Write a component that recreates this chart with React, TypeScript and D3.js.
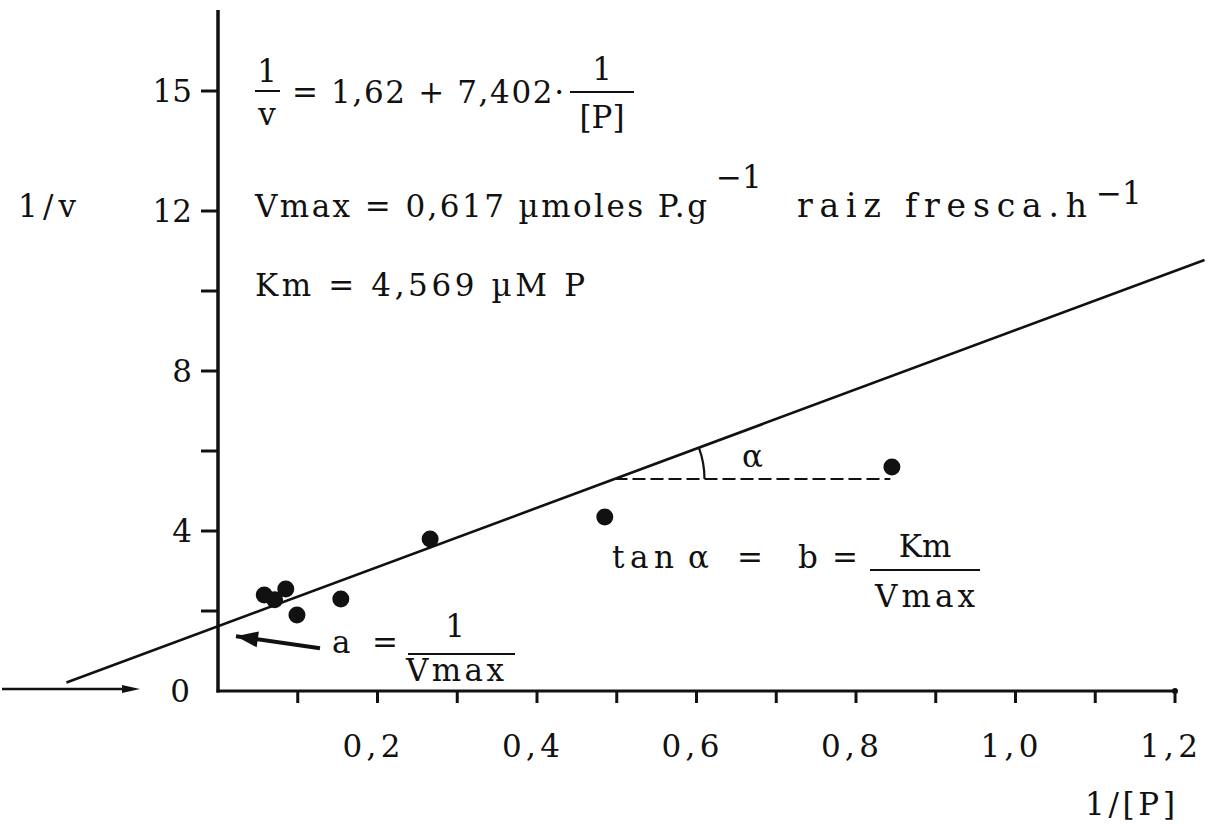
import React from "react";
import * as d3 from "d3";

// Lineweaver–Burk data: 1/[P] versus 1/v
const invP = [0.058, 0.071, 0.085, 0.099, 0.154, 0.266, 0.485, 0.845];
const invV = [2.4, 2.28, 2.55, 1.9, 2.3, 3.8, 4.35, 5.6];

// fitted regression 1/v = a + b·(1/[P])
const intercept = 1.62;
const slope = 7.402;
const lineFrom = -0.19;
const lineTo = 1.237;

const xTickValues = [0.1, 0.2, 0.3, 0.4, 0.5, 0.6, 0.7, 0.8, 0.9, 1.0, 1.1, 1.2];
const xLabelValues = [0.2, 0.4, 0.6, 0.8, 1.0, 1.2];
const xLabelTexts = ["0,2", "0,4", "0,6", "0,8", "1,0", "1,2"];
const yTickValues = [2, 4, 6, 8, 10, 12, 15];
const yLabelValues = [0, 4, 8, 12, 15];
const yLabelTexts = ["0", "4", "8", "12", "15"];

// level of the dashed construction line for the slope angle
const angleLevel = 5.3;
const angleEnd = 0.843;

const W = 1217;
const H = 829;
const FONT = "'DejaVu Serif', 'Liberation Serif', serif";
const FS = 31;

const x = d3.scaleLinear().domain([0, 1.2]).range([218, 1175]);
const y = d3.scaleLinear().domain([0, 15]).range([691, 91]);

type TProps = {
  x: number;
  y: number;
  w?: number;
  anchor?: "start" | "middle" | "end";
  size?: number;
  children: React.ReactNode;
};

function T({ x: tx, y: ty, w, anchor = "start", size = FS, children }: TProps) {
  return (
    <text
      x={tx}
      y={ty}
      textAnchor={anchor}
      fontFamily={FONT}
      fontSize={size}
      fill="#111"
      textLength={w}
      lengthAdjust={w ? "spacing" : undefined}
      style={{ whiteSpace: "pre" }}
    >
      {children}
    </text>
  );
}

export default function App() {
  const fit = d3
    .line<number>()
    .x((d) => x(d))
    .y((d) => y(intercept + slope * d));

  const x0 = (angleLevel - intercept) / slope;
  const cx = x(x0);
  const cy = y(angleLevel);
  const theta = Math.atan2(y(intercept + slope * lineTo) - y(intercept + slope * x0), x(lineTo) - cx);
  const r = 90;
  const arc = `M ${cx + r} ${cy} A ${r} ${r} 0 0 0 ${cx + r * Math.cos(theta)} ${cy + r * Math.sin(theta)}`;

  const yAxisX = x(0);
  const xAxisY = y(0);

  // arrow toward the intercept on the ordinate
  const arrowTip: [number, number] = [yAxisX + 18, y(intercept) + 10];
  const arrowTail: [number, number] = [yAxisX + 102, y(intercept) + 22];
  const ang = Math.atan2(arrowTip[1] - arrowTail[1], arrowTip[0] - arrowTail[0]);
  const head = (tip: [number, number], a: number, len: number, half: number) => {
    const bx = tip[0] - len * Math.cos(a);
    const by = tip[1] - len * Math.sin(a);
    return `M ${tip[0]} ${tip[1]} L ${bx + half * Math.sin(a)} ${by - half * Math.cos(a)} L ${bx - half * Math.sin(a)} ${by + half * Math.cos(a)} Z`;
  };

  return (
    <svg
      width={W}
      height={H}
      viewBox={`0 0 ${W} ${H}`}
      style={{ position: "absolute", left: 0, top: 0, background: "#fff" }}
    >
      <rect width={W} height={H} fill="#fff" />

      {/* axes */}
      <line x1={yAxisX} y1={10} x2={yAxisX} y2={xAxisY + 1.5} stroke="#111" strokeWidth={3.5} />
      <line x1={yAxisX - 1.5} y1={xAxisY} x2={x(1.2)} y2={xAxisY} stroke="#111" strokeWidth={3} />
      <circle cx={x(1.2)} cy={xAxisY} r={3} fill="#111" />

      {/* abscissa extension to the left with arrow */}
      <line x1={2} y1={xAxisY - 2} x2={128} y2={xAxisY - 2} stroke="#111" strokeWidth={2.5} />
      <path d={head([140, xAxisY - 2], 0, 18, 4)} fill="#111" />

      {xTickValues.map((v) => (
        <line key={v} x1={x(v)} y1={xAxisY} x2={x(v)} y2={xAxisY + 12} stroke="#111" strokeWidth={3} />
      ))}
      {xLabelValues.map((v, i) => (
        <T key={v} x={x(v) - 6} y={757} anchor="middle" w={58}>
          {xLabelTexts[i]}
        </T>
      ))}

      {yTickValues.map((v) => (
        <line key={v} x1={yAxisX - 17} y1={y(v)} x2={yAxisX} y2={y(v)} stroke="#111" strokeWidth={3} />
      ))}
      {yLabelValues.map((v, i) => (
        <T key={v} x={v === 0 ? 190 : 192} y={y(v) + 11} anchor="end">
          {yLabelTexts[i]}
        </T>
      ))}

      <T x={18} y={217} w={58}>1/v</T>
      <T x={1085} y={815} w={90}>1/[P]</T>

      {/* regression line */}
      <path d={fit([lineFrom, lineTo]) ?? ""} fill="none" stroke="#111" strokeWidth={2.6} />

      {/* data */}
      {invP.map((p, i) => (
        <circle key={i} cx={x(p)} cy={y(invV[i])} r={8.5} fill="#111" />
      ))}

      {/* slope construction */}
      <line
        x1={cx}
        y1={cy}
        x2={x(angleEnd)}
        y2={cy}
        stroke="#111"
        strokeWidth={2.2}
        strokeDasharray="13 5"
      />
      <path d={arc} fill="none" stroke="#111" strokeWidth={2.2} />
      <T x={cx + r + 48} y={cy - 12} anchor="middle">α</T>

      {/* equation block */}
      <T x={267} y={82} anchor="middle">1</T>
      <line x1={255} y1={91} x2={280} y2={91} stroke="#111" strokeWidth={2} />
      <T x={267} y={125} anchor="middle">v</T>
      <T x={292} y={103} w={272}>= 1,62 + 7,402·</T>
      <T x={602} y={80} anchor="middle">1</T>
      <line x1={570} y1={92} x2={634} y2={92} stroke="#111" strokeWidth={2} />
      <T x={602} y={128} anchor="middle">[P]</T>

      <T x={255} y={217} w={452}>Vmax = 0,617 µmoles P.g</T>
      <T x={716} y={188}>−1</T>
      <T x={797} y={217} w={290} size={33}>raiz fresca.h</T>
      <T x={1096} y={204}>−1</T>

      <T x={255} y={296} w={330}>Km = 4,569 µM P</T>

      {/* slope annotation */}
      <T x={612} y={568} w={62}>tan</T>
      <T x={688} y={568}>α</T>
      <T x={750} y={568} anchor="middle">=</T>
      <T x={798} y={568}>b</T>
      <T x={845} y={568} anchor="middle">=</T>
      <T x={925} y={557} anchor="middle">Km</T>
      <line x1={870} y1={570} x2={980} y2={570} stroke="#111" strokeWidth={2} />
      <T x={925} y={607} anchor="middle" w={100}>Vmax</T>

      {/* intercept annotation */}
      <path d={`M ${arrowTail[0]} ${arrowTail[1]} L ${arrowTip[0]} ${arrowTip[1]}`} stroke="#111" strokeWidth={4} />
      <path d={head(arrowTip, ang, 22, 8)} fill="#111" />
      <T x={332} y={653}>a</T>
      <T x={385} y={653} anchor="middle">=</T>
      <T x={455} y={637} anchor="middle">1</T>
      <line x1={408} y1={654} x2={515} y2={654} stroke="#111" strokeWidth={2} />
      <T x={455} y={681} anchor="middle" w={98}>Vmax</T>
    </svg>
  );
}
